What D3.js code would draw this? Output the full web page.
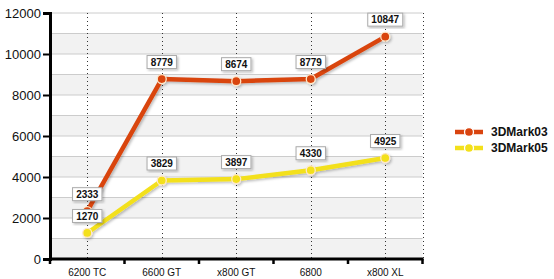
<!DOCTYPE html>
<html lang="en">
<head>
  <meta charset="UTF-8">
  <title>3DMark chart</title>
  <style>
    body { margin: 0; background: #fff; }
    text { font-family: "Liberation Sans", Arial, sans-serif; }
  </style>
</head>
<body>
  <svg id="chart" width="554" height="279"></svg>
  <script src="https://d3js.org/d3.v7.min.js"></script>
  <script>
    var categories = ["6200 TC", "6600 GT", "x800 GT", "6800", "x800 XL"];
    var mark03 = [2333, 8779, 8674, 8779, 10847];
    var mark05 = [1270, 3829, 3897, 4330, 4925];
    var yTicks = [0, 2000, 4000, 6000, 8000, 10000, 12000];

    var series = [
      { name: "3DMark03", values: mark03, color: "#d9440f" },
      { name: "3DMark05", values: mark05, color: "#f3e01b" }
    ];

    var svg = d3.select("#chart"),
      plotLeft = 50, plotRight = 422.5, plotTop = 13, plotBottom = 259;

    var x = d3.scaleBand().domain(categories).range([plotLeft, plotRight]);
    var y = d3.scaleLinear().domain([0, 12000]).range([plotBottom, plotTop]);

    function cxOf(i) { return x(categories[i]) + x.bandwidth() / 2; }

    var defs = svg.append("defs");
    var f = defs.append("filter").attr("id", "shadow")
      .attr("x", "-20%").attr("y", "-20%").attr("width", "140%").attr("height", "140%");
    f.append("feDropShadow").attr("dx", 1.5).attr("dy", 1.5)
      .attr("stdDeviation", 1).attr("flood-color", "#000").attr("flood-opacity", 0.25);

    // alternating bands
    var bands = d3.range(0, 12000, 2000);
    svg.selectAll(".band").data(bands).enter().append("rect")
      .attr("x", plotLeft).attr("width", plotRight - plotLeft)
      .attr("y", function(d) { return y(d + 1000); })
      .attr("height", function(d) { return y(d) - y(d + 1000); })
      .attr("fill", "#f2f2f2");

    // horizontal grid every 1000
    svg.selectAll(".hgrid").data(d3.range(1000, 12001, 1000)).enter().append("line")
      .attr("x1", plotLeft).attr("x2", plotRight)
      .attr("y1", function(d) { return y(d); }).attr("y2", function(d) { return y(d); })
      .attr("stroke", "#cccccc").attr("stroke-width", 1);

    // vertical dotted lines
    var vx = categories.map(function(c, i) { return cxOf(i); }).concat([plotRight]);
    svg.selectAll(".vgrid").data(vx).enter().append("line")
      .attr("x1", function(d) { return Math.round(d) + 0.5; })
      .attr("x2", function(d) { return Math.round(d) + 0.5; })
      .attr("y1", plotTop).attr("y2", plotBottom)
      .attr("stroke", "#333").attr("stroke-width", 1)
      .attr("stroke-dasharray", "1,3");

    // y axis
    var yAxis = svg.append("g").attr("transform", "translate(" + plotLeft + ",0)")
      .call(d3.axisLeft(y).tickValues(yTicks).tickSize(7).tickPadding(2).tickFormat(d3.format("d")));
    yAxis.select(".domain").attr("stroke", "#000").attr("stroke-width", 3);
    yAxis.selectAll(".tick line").attr("stroke", "#000").attr("stroke-width", 2);
    yAxis.selectAll("text").attr("font-size", 13).attr("fill", "#111")
      .style("font-family", "'Liberation Sans', Arial, sans-serif");

    // x axis
    var xAxis = svg.append("g").attr("transform", "translate(0," + plotBottom + ")")
      .call(d3.axisBottom(x).tickSize(0).tickPadding(10));
    xAxis.select(".domain").remove();
    xAxis.append("line").attr("x1", plotLeft).attr("x2", plotRight + 1)
      .attr("stroke", "#000").attr("stroke-width", 3);
    xAxis.selectAll(".bound").data(categories.map(function(c) { return x(c); }).concat([plotRight]))
      .enter().append("line")
      .attr("x1", function(d) { return d; }).attr("x2", function(d) { return d; })
      .attr("y1", 0).attr("y2", 5)
      .attr("stroke", "#000").attr("stroke-width", 2.5);
    xAxis.selectAll("text").attr("font-size", 10).attr("fill", "#111")
      .style("font-family", "'Liberation Sans', Arial, sans-serif");

    var line = d3.line()
      .x(function(d, i) { return cxOf(i); })
      .y(function(d) { return y(d); });

    // lines and points
    series.forEach(function(s) {
      var g = svg.append("g").attr("filter", "url(#shadow)");
      g.append("path").datum(s.values)
        .attr("d", line).attr("fill", "none")
        .attr("stroke", s.color).attr("stroke-width", 4.5)
        .attr("stroke-linejoin", "round");
      g.selectAll("circle").data(s.values).enter().append("circle")
        .attr("cx", function(d, i) { return cxOf(i); })
        .attr("cy", function(d) { return y(d); })
        .attr("r", 4.5).attr("fill", s.color)
        .attr("stroke", "#ffe8c8").attr("stroke-width", 1.3);
    });

    // value labels
    series.forEach(function(s) {
      var lg = svg.append("g");
      s.values.forEach(function(v, i) {
        var cx = cxOf(i), cy = y(v) - 17;
        var txt = String(v), w = txt.length * 5.6 + 7, h = 13;
        lg.append("rect")
          .attr("x", cx - w / 2).attr("y", cy - h / 2)
          .attr("width", w).attr("height", h)
          .attr("fill", "#fff").attr("stroke", "#aaa").attr("stroke-width", 1)
          .attr("filter", "url(#shadow)");
        lg.append("text")
          .attr("x", cx).attr("y", cy + 3.6)
          .attr("text-anchor", "middle")
          .attr("font-size", 10).attr("font-weight", "bold").attr("fill", "#111")
          .text(txt);
      });
    });

    // legend
    var legend = svg.append("g");
    series.forEach(function(s, i) {
      var ly = 132 + i * 16;
      legend.append("line").attr("x1", 455).attr("x2", 483)
        .attr("y1", ly).attr("y2", ly)
        .attr("stroke", s.color).attr("stroke-width", 4.5);
      legend.append("circle").attr("cx", 469).attr("cy", ly).attr("r", 4.5)
        .attr("fill", s.color).attr("stroke", "#fff").attr("stroke-width", 1.3);
      legend.append("text").attr("x", 491).attr("y", ly + 4.2)
        .attr("font-size", 12).attr("font-weight", "bold").attr("fill", "#111")
        .text(s.name);
    });
  </script>
</body>
</html>
